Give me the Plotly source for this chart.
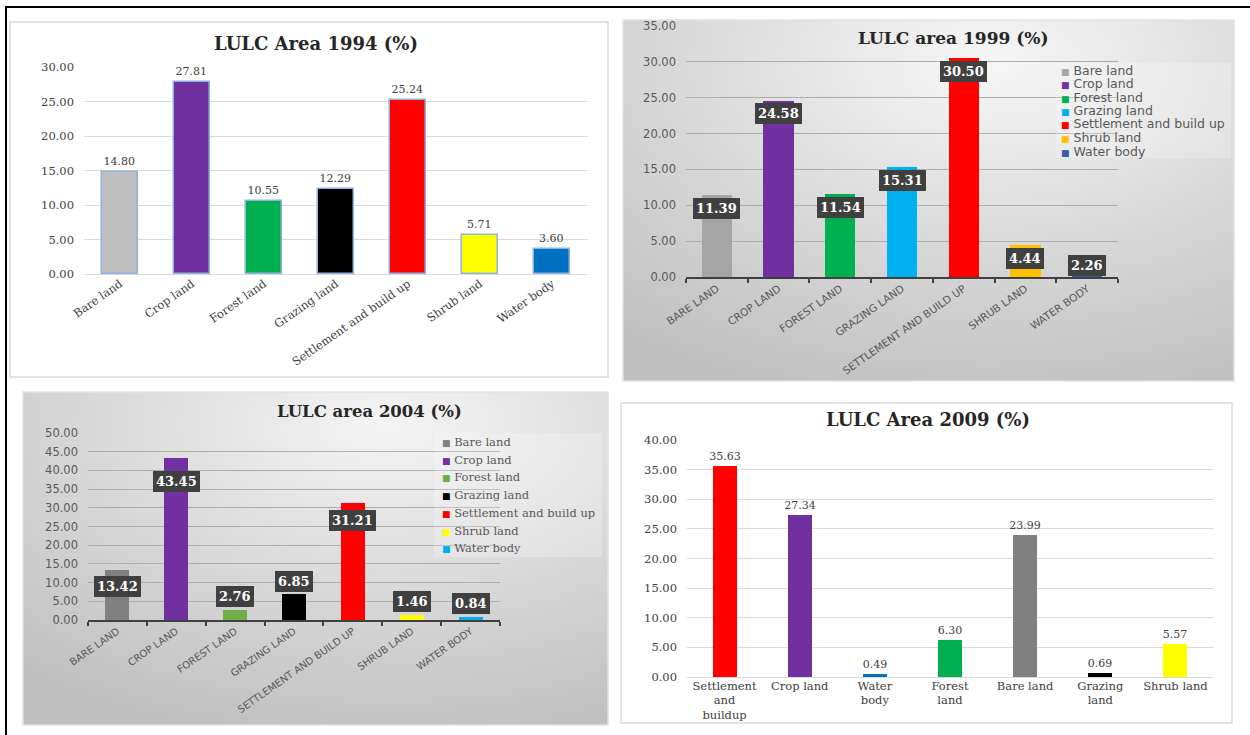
import base64
import plotly.graph_objects as go

# ---------------- data ----------------
cats_1994 = ["Bare land", "Crop land", "Forest land", "Grazing land",
             "Settlement and build up", "Shrub land", "Water body"]
vals_1994 = [14.80, 27.81, 10.55, 12.29, 25.24, 5.71, 3.60]

cats_1999 = ["Bare land", "Crop land", "Forest land", "Grazing land",
             "Settlement and build up", "Shrub land", "Water body"]
vals_1999 = [11.39, 24.58, 11.54, 15.31, 30.50, 4.44, 2.26]

cats_2004 = ["Bare land", "Crop land", "Forest land", "Grazing land",
             "Settlement and build up", "Shrub land", "Water body"]
vals_2004 = [13.42, 43.45, 2.76, 6.85, 31.21, 1.46, 0.84]

cats_2009 = ["Settlement and buildup", "Crop land", "Water body", "Forest land",
             "Bare land", "Grazing land", "Shrub land"]
ticks_2009 = ["Settlement<br>and<br>buildup", "Crop land", "Water<br>body", "Forest<br>land",
              "Bare land", "Grazing<br>land", "Shrub land"]
vals_2009 = [35.63, 27.34, 0.49, 6.30, 23.99, 0.69, 5.57]

colors_1994 = ["#BFBFBF", "#7030A0", "#00B050", "#000000", "#FF0000", "#FFFF00", "#0070C0"]
colors_1999 = ["#A5A5A5", "#7030A0", "#00B050", "#00B0F0", "#FF0000", "#FFC000", "#3A5CA6"]
colors_2004 = ["#808080", "#7030A0", "#70AD47", "#000000", "#FF0000", "#FFFF00", "#00B0F0"]
colors_2009 = ["#FF0000", "#7030A0", "#0070C0", "#00B050", "#808080", "#000000", "#FFFF00"]

titles = ["LULC Area 1994 (%)", "LULC area 1999 (%)", "LULC area 2004 (%)", "LULC Area 2009 (%)"]

# ---------------- geometry helpers ----------------
W, H = 1250, 735
SERIF = "DejaVu Serif"
SANS = "DejaVu Sans"


def fx(p):
    return p / W


def fy(p):
    return 1 - p / H


def grad_svg(cx, cy, r, c0, c1):
    svg = ("<svg xmlns='http://www.w3.org/2000/svg' width='200' height='200' preserveAspectRatio='none'>"
           f"<defs><radialGradient id='g' cx='{cx}' cy='{cy}' r='{r}'>"
           f"<stop offset='0' stop-color='{c0}'/><stop offset='1' stop-color='{c1}'/>"
           "</radialGradient></defs><rect width='200' height='200' fill='url(#g)'/></svg>")
    return "data:image/svg+xml;base64," + base64.b64encode(svg.encode()).decode()


fig = go.Figure()

# panel 1 (1994)
fig.add_trace(go.Bar(
    x=cats_1994, y=vals_1994, xaxis="x", yaxis="y", width=0.51,
    marker=dict(color=colors_1994, line=dict(color="#8DB3E2", width=1.5)),
    texttemplate="%{y:.2f}", textposition="outside", constraintext="none", cliponaxis=False,
    textfont=dict(family=SERIF, size=11, color="#404040"), showlegend=False, hoverinfo="x+y"))

# panel 2 (1999)
fig.add_trace(go.Bar(
    x=[c.upper() for c in cats_1999], y=vals_1999, xaxis="x2", yaxis="y2", width=0.49,
    marker=dict(color=colors_1999, line=dict(width=0)), showlegend=False, hoverinfo="x+y"))

# panel 3 (2004)
fig.add_trace(go.Bar(
    x=[c.upper() for c in cats_2004], y=vals_2004, xaxis="x3", yaxis="y3", width=0.41,
    marker=dict(color=colors_2004, line=dict(width=0)), showlegend=False, hoverinfo="x+y"))

# panel 4 (2009)
fig.add_trace(go.Bar(
    x=cats_2009, y=vals_2009, xaxis="x4", yaxis="y4", width=0.32,
    marker=dict(color=colors_2009, line=dict(width=0)),
    texttemplate="%{y:.2f}", textposition="outside", constraintext="none", cliponaxis=False,
    textfont=dict(family=SERIF, size=11, color="#404040"), showlegend=False, hoverinfo="x+y"))

# axes definitions: (x px domain, y px domain, y max)
panels = {
    "": ((84, 588), (67, 274), 30),
    "2": ((686, 1118), (26, 277), 35),
    "3": ((88, 500), (433, 620), 50),
    "4": ((687, 1213), (440, 677), 40),
}

layout_axes = {}
for k, ((x0, x1), (y0, y1), ymax) in panels.items():
    white_panel = k in ("", "4")
    grid = "#D9D9D9" if white_panel else "#ADADAD"
    tickcol = "#404040" if white_panel else "#595959"
    yfont = dict(family=SERIF, size=11.5, color=tickcol) if white_panel else \
        dict(family=SANS, size=11.5, color=tickcol)
    xa = dict(domain=[fx(x0), fx(x1)], anchor="y" + k, range=[-0.5, 6.5], type="category",
              showgrid=False, zeroline=False, fixedrange=True, automargin=False,
              tickfont=dict(family=SERIF, size=11.5, color=tickcol))
    ya = dict(domain=[fy(y1), fy(y0)], anchor="x" + k, range=[0, ymax], dtick=5, tickformat=".2f",
              showgrid=True, gridcolor=grid, gridwidth=1, zeroline=white_panel,
              zerolinecolor=grid, zerolinewidth=1, showline=False, ticks="",
              ticklabelstandoff=9, fixedrange=True, automargin=False, tickfont=yfont)
    if not white_panel:
        xa.update(showline=True, linecolor="#404040", linewidth=1.5, ticks="outside",
                  tickson="boundaries", ticklen=4, tickcolor="#404040", tickwidth=1.5,
                  tickangle=-35, tickfont=dict(family=SANS, size=10.5 if k == "2" else 10,
                                               color="#595959"))
    elif k == "":
        xa.update(tickangle=-35)
    else:
        xa.update(tickangle=0, tickvals=cats_2009, ticktext=ticks_2009,
                  tickfont=dict(family=SERIF, size=11.5, color="#404040"))
    layout_axes["xaxis" + k] = xa
    layout_axes["yaxis" + k] = ya

shapes = []
# panel frames
shapes.append(dict(type="rect", xref="paper", yref="paper", x0=fx(10), x1=fx(608), y0=fy(377), y1=fy(22),
                   fillcolor="white", line=dict(color="#D9D9D9", width=1.5), layer="below"))
shapes.append(dict(type="rect", xref="paper", yref="paper", x0=fx(621), x1=fx(1232), y0=fy(723), y1=fy(403),
                   fillcolor="white", line=dict(color="#D9D9D9", width=1.5), layer="below"))
shapes.append(dict(type="rect", xref="paper", yref="paper", x0=fx(623), x1=fx(1234), y0=fy(381), y1=fy(20),
                   fillcolor="rgba(0,0,0,0)", line=dict(color="#E2E2E2", width=1.5), layer="below"))
shapes.append(dict(type="rect", xref="paper", yref="paper", x0=fx(23), x1=fx(608), y0=fy(725), y1=fy(392),
                   fillcolor="rgba(0,0,0,0)", line=dict(color="#E2E2E2", width=1.5), layer="below"))
# legend boxes
shapes.append(dict(type="rect", xref="paper", yref="paper", x0=fx(1056), x1=fx(1231), y0=fy(158), y1=fy(63),
                   fillcolor="rgba(255,255,255,0.22)", line=dict(width=0), layer="above"))
shapes.append(dict(type="rect", xref="paper", yref="paper", x0=fx(434), x1=fx(602), y0=fy(557), y1=fy(433),
                   fillcolor="rgba(255,255,255,0.22)", line=dict(width=0), layer="above"))
# outer black frame (top and left)
shapes.append(dict(type="line", xref="paper", yref="paper", x0=fx(5), x1=1, y0=fy(7), y1=fy(7),
                   line=dict(color="black", width=2)))
shapes.append(dict(type="line", xref="paper", yref="paper", x0=fx(6), x1=fx(6), y0=0, y1=fy(6),
                   line=dict(color="black", width=2)))

images = [
    dict(source=grad_svg(0.6, 0.12, 0.95, "#F6F6F6", "#C0C0C0"), xref="paper", yref="paper",
         x=fx(623), y=fy(20), sizex=fx(1234) - fx(623), sizey=fy(20) - fy(381),
         xanchor="left", yanchor="top", sizing="stretch", layer="below"),
    dict(source=grad_svg(0.62, 0.1, 0.95, "#F4F4F4", "#C0C0C0"), xref="paper", yref="paper",
         x=fx(23), y=fy(392), sizex=fx(608) - fx(23), sizey=fy(392) - fy(725),
         xanchor="left", yanchor="top", sizing="stretch", layer="below"),
]

annotations = []
# titles
title_pos = [(316, 43, 18), (953, 38, 17), (369, 411, 16.5), (928, 419, 18)]
for t, (tx, ty, ts) in zip(titles, title_pos):
    annotations.append(dict(xref="paper", yref="paper", x=fx(tx), y=fy(ty), text="<b>" + t + "</b>",
                            showarrow=False, xanchor="center", yanchor="middle",
                            font=dict(family=SERIF, size=ts, color="#262626")))

# boxed data labels (1999)
ppu2 = (277 - 26) / 35
for c, v in zip(cats_1999, vals_1999):
    h = v * ppu2
    centre = max(h - 13, 11)
    annotations.append(dict(xref="x2", yref="y2", x=c.upper(), y=v, yshift=-(h - centre),
                            text="<b>%.2f</b>" % v, showarrow=False, yanchor="middle",
                            bgcolor="#404040", bordercolor="#404040", borderpad=2,
                            font=dict(family=SERIF, size=13, color="white")))
# boxed data labels (2004)
for c, v in zip(cats_2004, vals_2004):
    shift = (-17 if v < 40 else -24) if v >= 10 else 13
    annotations.append(dict(xref="x3", yref="y3", x=c.upper(), y=v, yshift=shift,
                            text="<b>%.2f</b>" % v, showarrow=False, yanchor="middle",
                            bgcolor="#404040", bordercolor="#404040", borderpad=2,
                            font=dict(family=SERIF, size=13, color="white")))

# manual legends
for i, (c, col) in enumerate(zip(cats_1999, colors_1999)):
    annotations.append(dict(xref="paper", yref="paper", x=fx(1059), y=fy(70 + 13.5 * i),
                            xanchor="left", yanchor="middle", showarrow=False,
                            text=f"<span style='color:{col};font-size:9px'>■</span> {c}",
                            font=dict(family=SANS, size=12.5, color="#595959")))
for i, (c, col) in enumerate(zip(cats_2004, colors_2004)):
    annotations.append(dict(xref="paper", yref="paper", x=fx(440), y=fy(442 + 17.7 * i),
                            xanchor="left", yanchor="middle", showarrow=False,
                            text=f"<span style='color:{col};font-size:9px'>■</span> {c}",
                            font=dict(family=SERIF, size=11.5, color="#595959")))

fig.update_layout(
    width=W, height=H, margin=dict(l=0, r=0, t=0, b=0, autoexpand=False),
    paper_bgcolor="white", plot_bgcolor="rgba(0,0,0,0)",
    barmode="overlay", bargap=0,
    font=dict(family=SERIF, color="#404040"),
    shapes=shapes, images=images, annotations=annotations,
    showlegend=False,
    **layout_axes,
)

fig.write_html("out.html")
